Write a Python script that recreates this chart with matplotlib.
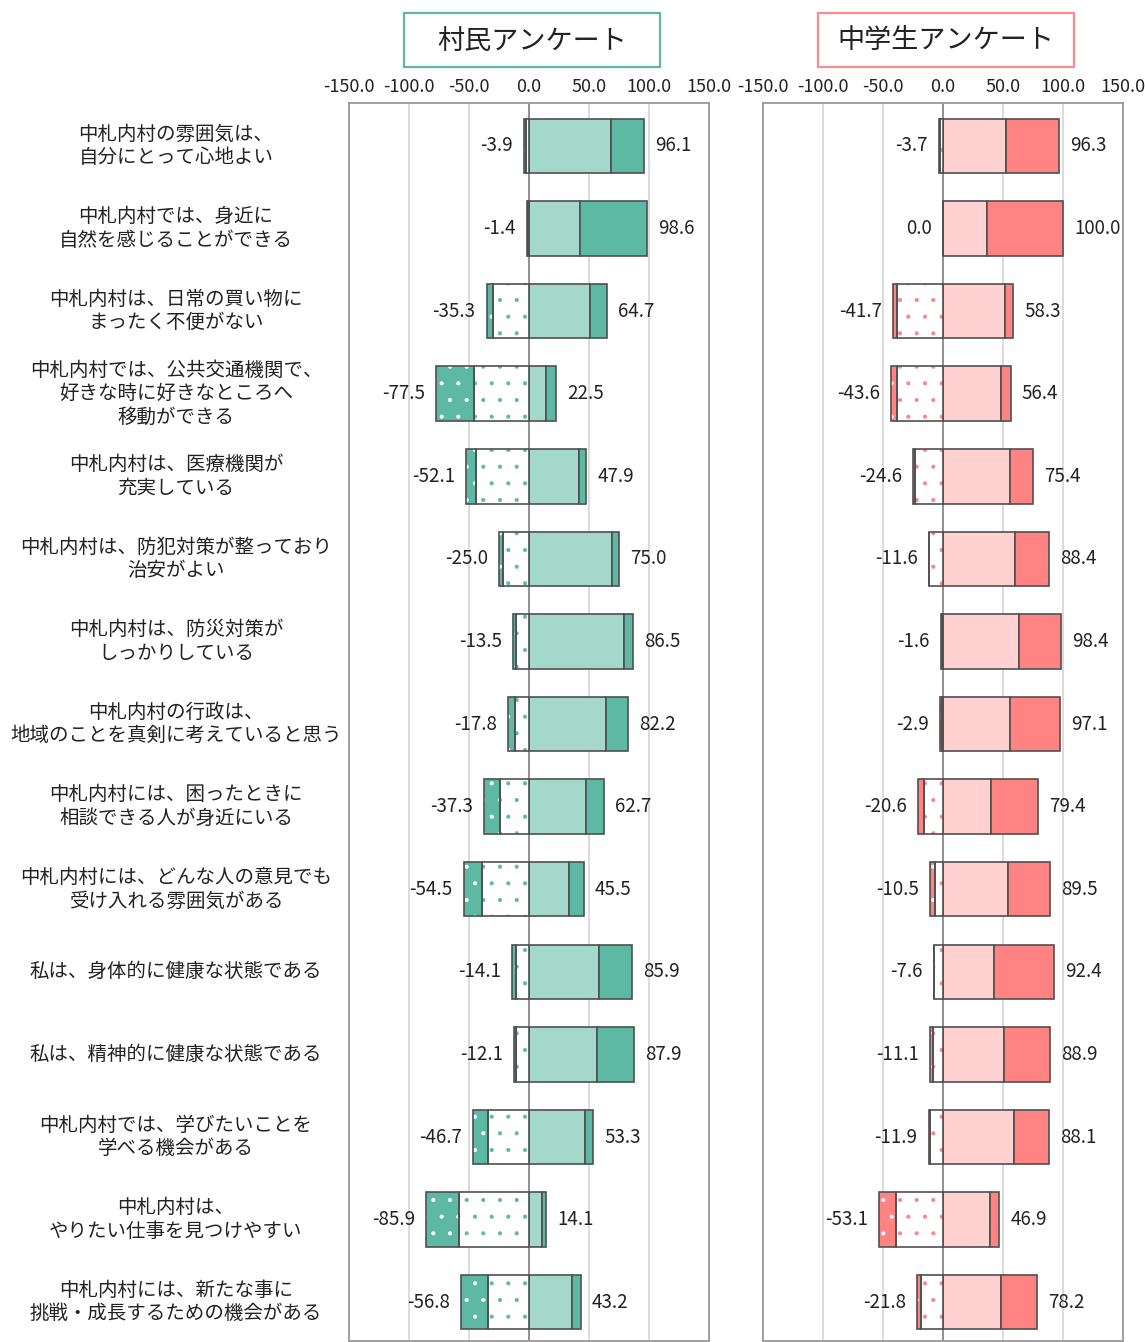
import numpy as np
import matplotlib
matplotlib.use("Agg")
import matplotlib.pyplot as plt
from matplotlib.patches import Rectangle

plt.rcParams['font.family'] = ['Noto Sans CJK JP', 'DejaVu Sans']
plt.rcParams['axes.unicode_minus'] = False
plt.rcParams['hatch.linewidth'] = 0.5

questions = [
    "中札内村の雰囲気は、\n自分にとって心地よい",
    "中札内村では、身近に\n自然を感じることができる",
    "中札内村は、日常の買い物に\nまったく不便がない",
    "中札内村では、公共交通機関で、\n好きな時に好きなところへ\n移動ができる",
    "中札内村は、医療機関が\n充実している",
    "中札内村は、防犯対策が整っており\n治安がよい",
    "中札内村は、防災対策が\nしっかりしている",
    "中札内村の行政は、\n地域のことを真剣に考えていると思う",
    "中札内村には、困ったときに\n相談できる人が身近にいる",
    "中札内村には、どんな人の意見でも\n受け入れる雰囲気がある",
    "私は、身体的に健康な状態である",
    "私は、精神的に健康な状態である",
    "中札内村では、学びたいことを\n学べる機会がある",
    "中札内村は、\nやりたい仕事を見つけやすい",
    "中札内村には、新たな事に\n挑戦・成長するための機会がある",
]

# 村民アンケート
v_neg_total = [3.9, 1.4, 35.3, 77.5, 52.1, 25.0, 13.5, 17.8, 37.3, 54.5, 14.1, 12.1, 46.7, 85.9, 56.8]
v_neg_strong = [1.3, 0.4, 5.0, 31.4, 8.3, 3.6, 2.5, 5.8, 12.8, 15.6, 3.1, 1.5, 12.2, 27.2, 23.0]
v_pos_total = [96.1, 98.6, 64.7, 22.5, 47.9, 75.0, 86.5, 82.2, 62.7, 45.5, 85.9, 87.9, 53.3, 14.1, 43.2]
v_pos_weak = [68.3, 42.5, 50.8, 14.4, 41.9, 68.9, 78.9, 63.9, 47.2, 33.6, 58.3, 56.7, 46.4, 11.1, 35.8]

# 中学生アンケート
s_neg_total = [3.7, 0.0, 41.7, 43.6, 24.6, 11.6, 1.6, 2.9, 20.6, 10.5, 7.6, 11.1, 11.9, 53.1, 21.8]
s_neg_strong = [1.0, 0.0, 3.4, 5.3, 1.5, 0.0, 0.6, 1.9, 4.5, 3.6, 0.0, 2.8, 1.2, 14.2, 3.6]
s_pos_total = [96.3, 100.0, 58.3, 56.4, 75.4, 88.4, 98.4, 97.1, 79.4, 89.5, 92.4, 88.9, 88.1, 46.9, 78.2]
s_pos_weak = [52.3, 36.6, 51.4, 48.6, 55.6, 60.4, 63.4, 56.1, 39.7, 53.9, 42.7, 51.1, 59.5, 38.8, 48.6]

ticks = [-150, -100, -50, 0, 50, 100, 150]

W, H = 1145, 1342
fig = plt.figure(figsize=(W / 100, H / 100), dpi=100)

edge = '#505050'
bh = 0.66
y_top, y_bot = -0.52, 14.47   # row range shown in each panel


def panel(left, neg_total, neg_strong, pos_total, pos_weak, light, dark, title, boxcol):
    ax = fig.add_axes([left / W, 1 - 1341 / H, 360 / W, (1341 - 103) / H])
    n = len(neg_total)
    y = np.arange(n)
    nt = np.array(neg_total)
    ns = np.array(neg_strong)
    pt = np.array(pos_total)
    pw = np.array(pos_weak)
    nw = nt - ns
    ps = pt - pw

    for xx in ticks[1:-1]:
        ax.axvline(xx, color='#888888' if xx == 0 else '#d9d9d9', lw=1.3, zorder=0)

    # positive side
    ax.barh(y, pw, left=0, height=bh, color=light, edgecolor=edge, lw=1.2, zorder=2)
    ax.barh(y, ps, left=pw, height=bh, color=dark, edgecolor=edge, lw=1.2, zorder=2)
    # negative side (dotted)
    ax.barh(y, -nw, left=0, height=bh, color='white', edgecolor=dark, hatch='.', lw=0, zorder=2)
    ax.barh(y, -nw, left=0, height=bh, color='none', edgecolor=edge, lw=1.2, zorder=3)
    ax.barh(y, -ns, left=-nw, height=bh, color=dark, edgecolor='white', hatch='.', lw=0, zorder=2)
    ax.barh(y, -ns, left=-nw, height=bh, color='none', edgecolor=edge, lw=1.2, zorder=3)

    for i in range(n):
        ax.annotate(f"-{nt[i]:.1f}" if nt[i] > 0 else f"{nt[i]:.1f}", (-nt[i], y[i]),
                    xytext=(-8, 0), textcoords='offset points',
                    ha='right', va='center', fontsize=13.5, color='#222222')
        ax.annotate(f"{pt[i]:.1f}", (pt[i], y[i]), xytext=(8, 0), textcoords='offset points',
                    ha='left', va='center', fontsize=13.5, color='#222222')

    ax.set_xlim(-150, 150)
    ax.set_ylim(y_bot, y_top)
    ax.set_yticks([])
    ax.set_xticks(ticks)
    ax.set_xticklabels([f"{t:.1f}" for t in ticks], fontsize=13, color='#222222')
    ax.xaxis.tick_top()
    ax.tick_params(axis='x', length=0, pad=5)
    for sp in ax.spines.values():
        sp.set_color('#999999')
        sp.set_linewidth(1.3)

    cx = left + 183
    fig.add_artist(Rectangle(((cx - 128) / W, 1 - 67 / H), 256 / W, 54 / H,
                             transform=fig.transFigure, fill=False,
                             edgecolor=boxcol, lw=1.6))
    fig.text(cx / W, 1 - 41 / H, title, ha='center', va='center', fontsize=19.5, color='#222222')
    return ax


ax1 = panel(349, v_neg_total, v_neg_strong, v_pos_total, v_pos_weak,
            '#a4d8ca', '#5db8a4', "村民アンケート", '#5db8a4')
panel(763, s_neg_total, s_neg_strong, s_pos_total, s_pos_weak,
      '#ffd1d1', '#ff8383', "中学生アンケート", '#ff8c8c')

# question labels, aligned to the bar rows of the left panel
for i, q in enumerate(questions):
    ax1.text(176 / W, i, q, transform=ax1.get_yaxis_transform().__class__(fig.transFigure, ax1.transData),
             ha='center', va='center', fontsize=14, linespacing=1.15, color='#222222')

fig.savefig("out.png", dpi=100)
